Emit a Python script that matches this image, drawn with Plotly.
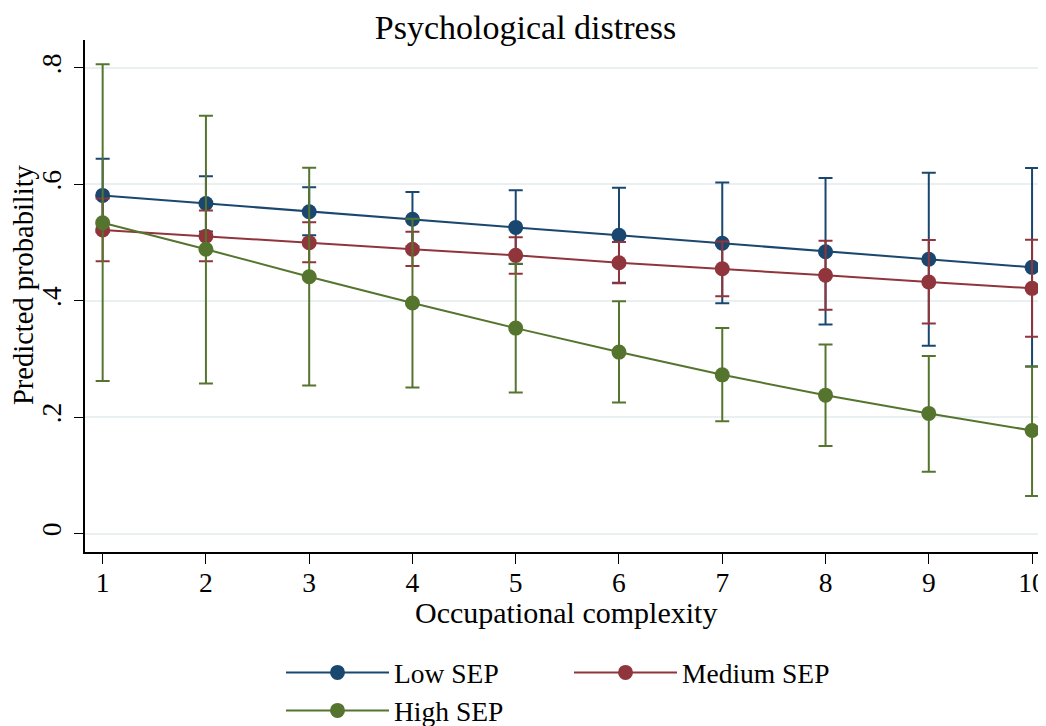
import plotly.graph_objects as go

x_vals = [1, 2, 3, 4, 5, 6, 7, 8, 9, 10]

low_est = [0.581, 0.567, 0.553, 0.540, 0.526, 0.5125, 0.4987, 0.4843, 0.4712, 0.4574]
low_hi = [0.644, 0.614, 0.595, 0.587, 0.590, 0.594, 0.603, 0.611, 0.620, 0.628]
low_lo = [0.518, 0.519, 0.5125, 0.493, 0.463, 0.431, 0.3955, 0.359, 0.3226, 0.287]

med_est = [0.5216, 0.511, 0.4998, 0.4884, 0.478, 0.4654, 0.455, 0.4437, 0.4322, 0.4213]
med_hi = [0.5755, 0.555, 0.5348, 0.5187, 0.509, 0.5008, 0.502, 0.503, 0.5044, 0.505]
med_lo = [0.4677, 0.4677, 0.466, 0.4597, 0.4465, 0.430, 0.4076, 0.3845, 0.3611, 0.338]

high_est = [0.534, 0.4884, 0.4413, 0.396, 0.353, 0.3118, 0.2727, 0.2378, 0.2064, 0.177]
high_hi = [0.8065, 0.718, 0.6287, 0.541, 0.4635, 0.399, 0.353, 0.325, 0.305, 0.287]
high_lo = [0.2619, 0.258, 0.2545, 0.251, 0.2425, 0.2253, 0.193, 0.1506, 0.106, 0.0647]

y_ticks = [0, 0.2, 0.4, 0.6, 0.8]
y_tick_labels = ["0", ".2", ".4", ".6", ".8"]
x_ticks = x_vals

series = [
    ("Low SEP", low_est, low_hi, low_lo, "#1a476f", "legend"),
    ("Medium SEP", med_est, med_hi, med_lo, "#90353b", "legend"),
    ("High SEP", high_est, high_hi, high_lo, "#55752f", "legend2"),
]

FONT = "Liberation Serif, Times New Roman, serif"

# The page body has an 8px margin, so the figure is sized to fill the window exactly.
W, H = 1038, 718
ML, MT, MB = 77, 32, 174
PW, PH = W - ML, H - MT - MB

fig = go.Figure()
for name, est, hi, lo, col, lg in series:
    fig.add_trace(go.Scatter(
        x=x_vals, y=est, name=name, mode="lines+markers", legend=lg,
        line=dict(color=col, width=2),
        marker=dict(color=col, size=15),
        error_y=dict(type="data", symmetric=False,
                     array=[h - e for h, e in zip(hi, est)],
                     arrayminus=[e - l for e, l in zip(est, lo)],
                     color=col, thickness=2, width=7),
    ))

leg_common = dict(orientation="h", xref="container", yref="container",
                  xanchor="left", yanchor="top", itemwidth=103, entrywidth=170,
                  font=dict(size=27.5, family=FONT, color="black"),
                  bgcolor="rgba(0,0,0,0)")

fig.update_layout(
    width=W, height=H,
    paper_bgcolor="white", plot_bgcolor="white",
    margin=dict(l=ML, r=0, t=MT, b=MB, autoexpand=False),
    font=dict(family=FONT, color="black", size=28),
    title=dict(text="Psychological distress", x=517.5 / W, xanchor="center",
               y=1 - 19 / H, yanchor="middle", yref="container",
               font=dict(size=34, family=FONT, color="black")),
    showlegend=True,
    legend=dict(x=273 / W, y=1 - 640 / H, **leg_common),
    legend2=dict(x=273 / W, y=1 - 678 / H, **leg_common),
    annotations=[
        dict(text="Occupational complexity", xref="paper", yref="paper",
             x=0.5, y=(PH + MT - 604) / PH, xanchor="center", yanchor="middle",
             showarrow=False, font=dict(size=30, family=FONT, color="black")),
        dict(text="Predicted probability", xref="paper", yref="paper",
             x=(15 - ML) / PW, y=(PH + MT - 277) / PH, xanchor="center",
             yanchor="middle", textangle=-90, showarrow=False,
             font=dict(size=28.5, family=FONT, color="black")),
    ],
)
fig.update_xaxes(range=[0.829, 10.135], tickvals=x_ticks, ticks="outside", ticklen=10,
                 tickwidth=1, tickcolor="black", showline=True, linecolor="black",
                 linewidth=1.5, showgrid=False, zeroline=False, automargin=False,
                 ticklabeloverflow="allow", ticklabelstandoff=-5,
                 tickfont=dict(size=27.5))
fig.update_yaxes(range=[-0.0317, 0.848], tickvals=y_ticks, ticktext=y_tick_labels,
                 ticks="outside", ticklen=9, tickwidth=1, tickcolor="black",
                 showline=True, linecolor="black", linewidth=1.5, automargin=False,
                 showgrid=True, gridcolor="#eaf0f1", gridwidth=1.5, zeroline=False,
                 tickangle=-90, tickfont=dict(size=27.5), ticklabelstandoff=2)

fig.write_html("out.html")
